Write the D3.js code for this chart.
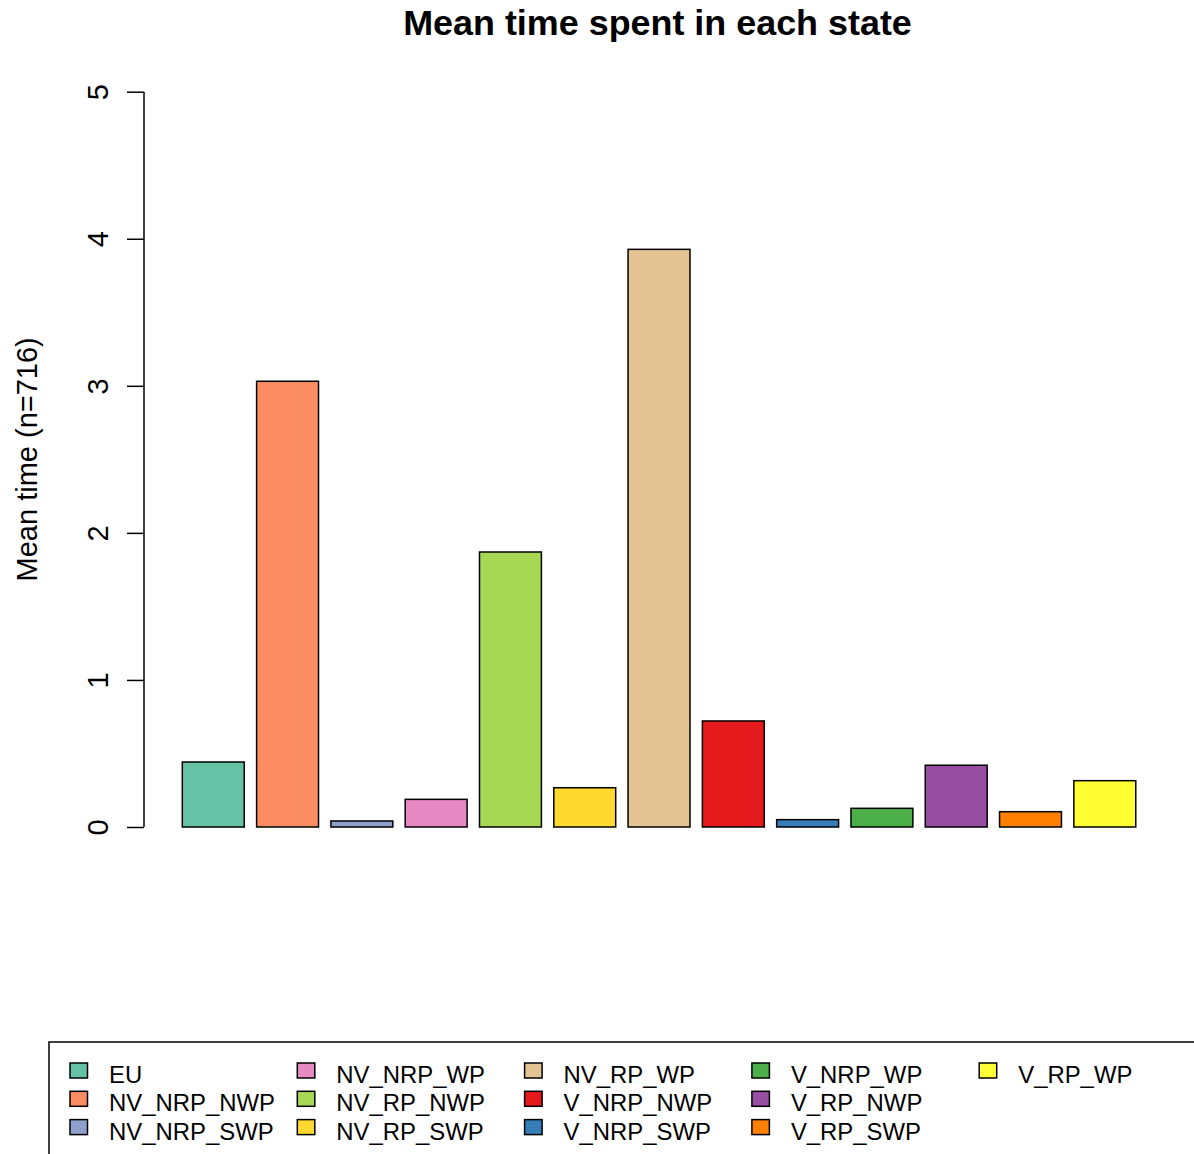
<!DOCTYPE html>
<html>
<head>
<meta charset="utf-8">
<script src="https://cdn.jsdelivr.net/npm/d3@7"></script>
<style>
  html, body { margin: 0; padding: 0; background: #fff; }
  svg { display: block; font-family: "Liberation Sans", Arial, sans-serif; }
</style>
</head>
<body>
<script>
const categories = ["EU","NV_NRP_NWP","NV_NRP_SWP","NV_NRP_WP","NV_RP_NWP","NV_RP_SWP","NV_RP_WP",
                    "V_NRP_NWP","V_NRP_SWP","V_NRP_WP","V_RP_NWP","V_RP_SWP","V_RP_WP"];
const values = [0.442, 3.031, 0.041, 0.188, 1.87, 0.267, 3.928, 0.721, 0.05, 0.127, 0.42, 0.104, 0.315];
const colors = ["#66C2A5","#FC8D62","#8DA0CB","#E78AC3","#A6D854","#FFD92F","#E5C494",
                "#E41A1C","#377EB8","#4DAF4A","#984EA3","#FF7F00","#FFFF33"];
const yTicks = [0, 1, 2, 3, 4, 5];
const titleText = "Mean time spent in each state";
const yLabel = "Mean time (n=716)";

const W = 1194, H = 1154;
const svg = d3.select("body").append("svg").attr("width", W).attr("height", H);

// Scales (R barplot style: bars of width 1, space 0.2)
const x = d3.scaleLinear().domain([-0.416, 16.216]).range([144.17, 1173.9]);
const y = d3.scaleLinear().domain([0, 5]).range([827, 91.7]);

// Title
svg.append("text")
  .attr("x", 657.5).attr("y", 35)
  .attr("text-anchor", "middle")
  .attr("font-size", 35.9).attr("font-weight", "bold")
  .text(titleText);

// Bars
svg.append("g").selectAll("rect").data(values).join("rect")
  .attr("x", (d, i) => x(0.2 + 1.2 * i))
  .attr("width", (d, i) => x(1.2 + 1.2 * i) - x(0.2 + 1.2 * i))
  .attr("y", d => y(d))
  .attr("height", d => y(0) - y(d))
  .attr("fill", (d, i) => colors[i])
  .attr("stroke", "#000").attr("stroke-width", 1.5);

// Y axis
const yAxis = d3.axisLeft(y).tickValues(yTicks).tickSize(17).tickSizeOuter(0).tickFormat(d3.format("d"));
const gy = svg.append("g").attr("transform", "translate(144,0)").call(yAxis);
gy.select(".domain").attr("stroke", "#000").attr("stroke-width", 1.5)
  .attr("d", `M0,${y(0)}V${y(5)}`);
gy.selectAll(".tick line").attr("stroke", "#000").attr("stroke-width", 1.5);
gy.selectAll(".tick text")
  .attr("font-size", 29).attr("font-family", "Liberation Sans, Arial, sans-serif")
  .attr("fill", "#000")
  .attr("x", null).attr("dy", null)
  .attr("text-anchor", "middle")
  .attr("transform", "translate(-36,0) rotate(-90)");

// Y axis label
svg.append("text")
  .attr("transform", `translate(37,${(y(0) + y(5)) / 2}) rotate(-90)`)
  .attr("text-anchor", "middle")
  .attr("font-size", 29)
  .text(yLabel);

// Legend
svg.append("rect")
  .attr("x", 49).attr("y", 1042).attr("width", 1200).attr("height", 200)
  .attr("fill", "none").attr("stroke", "#000").attr("stroke-width", 1.5);

const nrow = 3, colW = 227.3;
const lg = svg.append("g").selectAll("g").data(categories).join("g")
  .attr("transform", (d, i) => `translate(${70 + Math.floor(i / nrow) * colW},${1083 + (i % nrow) * 28.3})`);
lg.append("rect")
  .attr("x", 0).attr("y", -20).attr("width", 17.5).attr("height", 15)
  .attr("fill", (d, i) => colors[i]).attr("stroke", "#000").attr("stroke-width", 1.5);
lg.append("text")
  .attr("x", 39).attr("y", 0)
  .attr("font-size", 23.9)
  .text(d => d);
</script>
</body>
</html>
